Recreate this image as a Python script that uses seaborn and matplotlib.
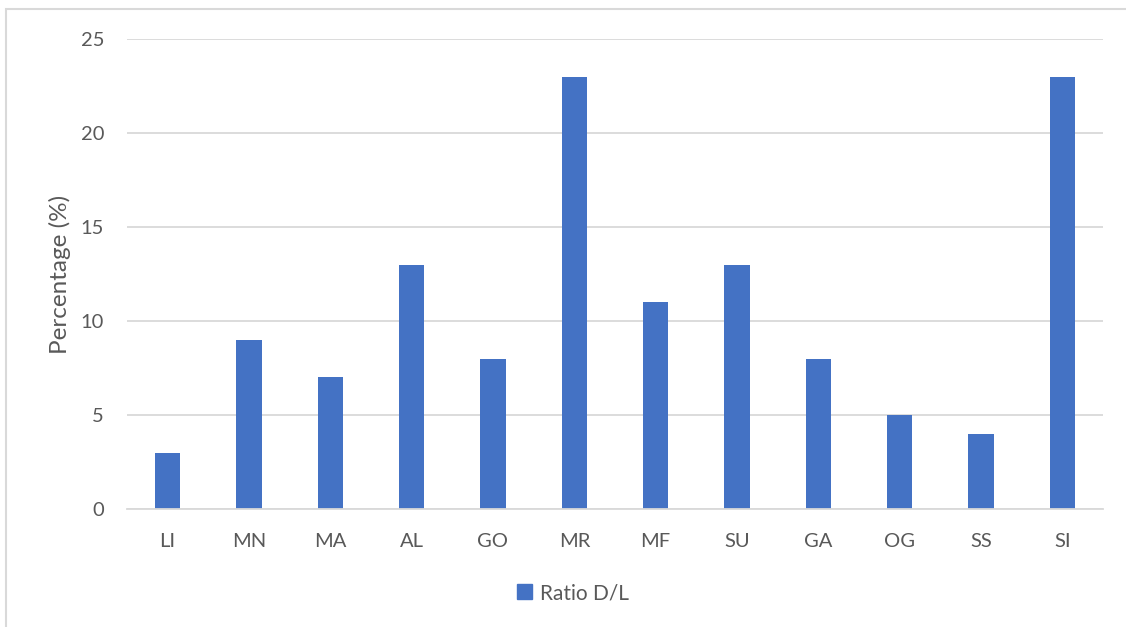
import matplotlib
matplotlib.use("Agg")
import matplotlib.pyplot as plt
import matplotlib.patches as mpatches
import seaborn as sns
import pandas as pd

categories = ["LI", "MN", "MA", "AL", "GO", "MR", "MF", "SU", "GA", "OG", "SS", "SI"]
ratio_dl = [3, 9, 7, 13, 8, 23, 11, 13, 8, 5, 4, 23]
y_ticks = [0, 5, 10, 15, 20, 25]
series_name = "Ratio D/L"

sns.set_theme(style="white")
plt.rcParams["font.family"] = ["Lato", "DejaVu Sans"]

text_color = "#595959"
bar_color = "#4472C4"
grid_color = "#D9D9D9"

df = pd.DataFrame({"category": categories, "value": ratio_dl})

fig = plt.figure(figsize=(11.26, 6.27), dpi=100)
W, H = 1126, 627
ax = fig.add_axes([127 / W, 1 - 509 / H, (1103 - 127) / W, (509 - 39) / H])

sns.barplot(data=df, x="category", y="value", color=bar_color, width=0.31,
            saturation=1, linewidth=0, ax=ax, zorder=3)

ax.set_ylim(0, 25)
ax.set_xlim(-0.5, len(categories) - 0.5)
ax.set_yticks(y_ticks)
ax.yaxis.grid(True, color=grid_color, linewidth=1.3, zorder=0)
ax.set_axisbelow(True)
for side in ["top", "right", "left"]:
    ax.spines[side].set_visible(False)
ax.spines["bottom"].set_color(grid_color)
ax.spines["bottom"].set_linewidth(1.3)
ax.spines["bottom"].set_zorder(4)

ax.tick_params(axis="both", length=0, labelsize=14.5, labelcolor=text_color)
ax.tick_params(axis="y", pad=16.5)
ax.tick_params(axis="x", pad=17)
ax.set_xlabel("")
ax.set_ylabel("Percentage (%)", fontsize=17.5, color=text_color, labelpad=7)

# chart frame
frame = mpatches.Rectangle((6 / W, -0.05), 1.2, 1 - 9 / H + 0.05, transform=fig.transFigure,
                           fill=False, edgecolor="#D9D9D9", linewidth=1.5)
fig.patches.append(frame)

handle = mpatches.Patch(color=bar_color, label=series_name)
fig.legend(handles=[handle], loc="center", bbox_to_anchor=(573 / W, 1 - 593 / H),
           frameon=False, fontsize=15, labelcolor=text_color, handlelength=0.7,
           handleheight=0.7, handletextpad=0.4)

fig.savefig("out.png", dpi=100)
